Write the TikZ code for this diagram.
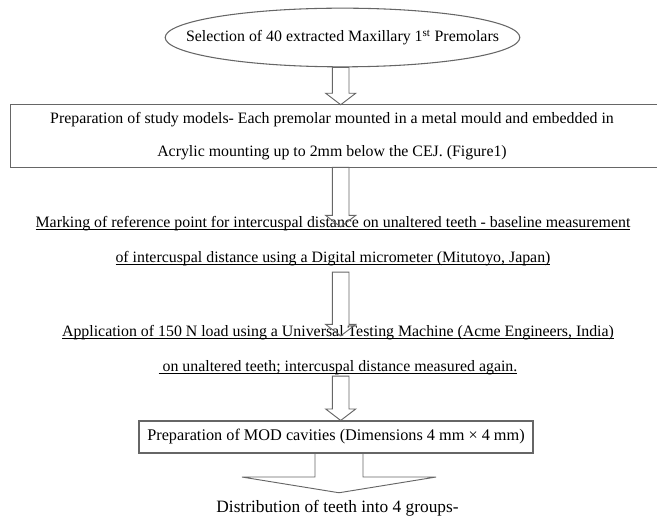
\documentclass[tikz,border=0pt]{standalone}
\usepackage{fontspec}
\setmainfont{Liberation Serif}
\usetikzlibrary{shapes.geometric,calc}

\newcommand{\ul}[1]{\underline{\smash{#1}}}
\newcommand{\blockarrow}[5]{%
  \draw [arr] let \p1=(#1), \p2=(#2) in
    ({\x2-#3},\y1) -- ({\x2-#3},{\y2+#5}) -- ({\x2-#4},{\y2+#5}) -- (\x2,\y2)
    -- ({\x2+#4},{\y2+#5}) -- ({\x2+#3},{\y2+#5}) -- ({\x2+#3},\y1) -- cycle;}

\begin{document}
\begin{tikzpicture}[x=0.75pt,y=-0.75pt]
            \tikzset{every node/.append style={inner sep=0pt},
              frame/.style={draw=black!60,line width=0.8pt},
              arr/.style={draw=black!60,line width=0.7pt},
              txt/.style={align=center,font=\fontsize{11.9}{26.25}\selectfont}}
            \useasboundingbox (0,0) rectangle (657,516);
            \clip (0,0) rectangle (657,516);
            \coordinate (ax) at (340.7,0);
            \coordinate (bx) at (339,0);
            \node [frame,ellipse,minimum width=266pt,minimum height=44pt,inner xsep=-25pt,font=\fontsize{11.9}{14}\selectfont] (sel) at (342.5,37.5) {Selection of 40 extracted Maxillary 1\textsuperscript{st} Premolars};
            \node [minimum width=481.5pt,minimum height=46.5pt,align=center,font=\fontsize{11.9}{24.75}\selectfont] (prep) at (332,136) {Preparation of study models- Each premolar mounted in a metal mould and embedded in\\Acrylic mounting up to 2mm below the CEJ. (Figure1)};
            \draw [frame] (prep.north west) rectangle ($(prep.south east)+(60,0)$);
            \node [txt] (mark) at (333,246) {\ul{Marking of reference point for intercuspal distance on unaltered teeth - baseline measurement}\\\ul{of intercuspal distance using a Digital micrometer (Mitutoyo, Japan)}};
            \node [txt] (app) at (338,355) {\ul{Application of 150 N load using a Universal Testing Machine (Acme Engineers, India)}\\\ul{\ on unaltered teeth; intercuspal distance measured again.}};
            \node [frame,minimum width=295.5pt,minimum height=24pt,font=\fontsize{12.2}{15}\selectfont] (mod) at (336,437) {Preparation of MOD cavities (Dimensions 4 mm × 4 mm)};
            \node [font=\fontsize{13}{15}\selectfont] (dist) at (337.5,508) {Distribution of teeth into 4 groups-};
            \blockarrow{ax |- sel.south}{ax |- prep.north}{6.2pt}{11.25pt}{8.6pt}
            \blockarrow{ax |- prep.south}{ax |- mark.north}{6.2pt}{11.25pt}{8.6pt}
            \blockarrow{$(ax |- mark.south)+(0,7)$}{ax |- app.north}{6.2pt}{11.25pt}{8.6pt}
            \blockarrow{$(ax |- app.south)+(0,2)$}{ax |- mod.north}{6.2pt}{11.25pt}{8.6pt}
            \blockarrow{bx |- mod.south}{$(bx |- dist.north)+(0,-7)$}{18pt}{72.75pt}{11.8pt}
\end{tikzpicture}
\end{document}
